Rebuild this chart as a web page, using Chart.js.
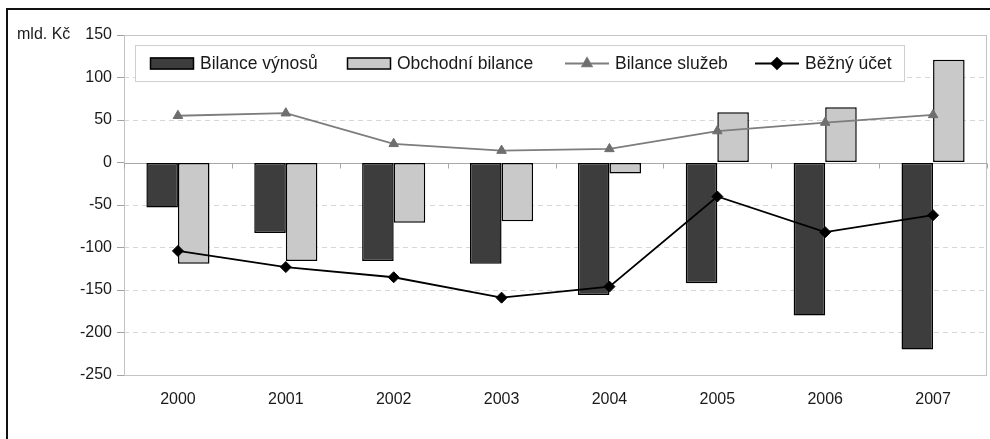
<!DOCTYPE html>
<html>
<head>
<meta charset="utf-8">
<script src="https://cdn.jsdelivr.net/npm/chart.js@4.4.1/dist/chart.umd.min.js"></script>
<style>
  html, body { margin: 0; padding: 0; background: #fff; }
  canvas { display: block; }
</style>
</head>
<body>
<canvas id="chart" width="990" height="439"></canvas>
<script>
// Platební bilance ČR, mld. Kč
const years = ['2000', '2001', '2002', '2003', '2004', '2005', '2006', '2007'];
const bilanceVynosu = [-53, -83, -116, -119, -156, -142, -180, -220];
const obchodniBilance = [-119, -116, -71, -69, -13, 59, 65, 121];
const bilanceSluzeb = [55, 58, 22, 14, 16, 37, 47, 56];
const beznyUcet = [-104, -123, -135, -159, -146, -40, -82, -62];
const yTicks = [150, 100, 50, 0, -50, -100, -150, -200, -250];
const unitLabel = 'mld. Kč';
const seriesNames = ['Bilance výnosů', 'Obchodní bilance', 'Bilance služeb', 'Běžný účet'];

const FONT = '"Liberation Sans", Arial, sans-serif';
const TEXT = '#1a1a1a';
const DARK = '#3d3d3d';
const LIGHT = '#c9c9c9';
const GREY_LINE = '#7d7d7d';

// Outer frame, plot border, zero line with category tick marks
const decor = {
  id: 'decor',
  beforeDraw(chart) {
    const ctx = chart.ctx;
    ctx.save();
    ctx.fillStyle = '#fff';
    ctx.fillRect(0, 0, chart.width, chart.height);
    ctx.strokeStyle = '#111';
    ctx.lineWidth = 2;
    ctx.beginPath();
    ctx.moveTo(7, chart.height);
    ctx.lineTo(7, 9);
    ctx.lineTo(chart.width, 9);
    ctx.stroke();
    ctx.restore();
  },
  beforeDatasetsDraw(chart) {
    const { ctx, chartArea: a, scales } = chart;
    ctx.save();
    ctx.strokeStyle = '#c4c4c4';
    ctx.lineWidth = 1;
    ctx.strokeRect(a.left + 0.5, a.top + 0.5, a.right - a.left - 1, a.bottom - a.top);
    const y0 = Math.round(scales.y.getPixelForValue(0)) + 0.5;
    ctx.strokeStyle = '#a8a8a8';
    ctx.beginPath();
    ctx.moveTo(a.left, y0);
    ctx.lineTo(a.right, y0);
    const x = scales.x;
    const step = (x.getPixelForValue(1) - x.getPixelForValue(0));
    for (let i = 0; i <= years.length; i++) {
      const px = Math.round(x.getPixelForValue(0) - step / 2 + i * step) + 0.5;
      ctx.moveTo(px, y0);
      ctx.lineTo(px, y0 + 5);
    }
    ctx.stroke();
    // unit label beside the top tick
    ctx.fillStyle = TEXT;
    ctx.font = '16px ' + FONT;
    ctx.textAlign = 'left';
    ctx.textBaseline = 'middle';
    ctx.fillText(unitLabel, 17, scales.y.getPixelForValue(yTicks[0]));
    ctx.restore();
  }
};

// Legend box drawn inside the top of the plot
const legendBox = {
  id: 'legendBox',
  afterDraw(chart) {
    const ctx = chart.ctx;
    const box = { x: 135.5, y: 45.5, w: 769, h: 36 };
    const cy = box.y + box.h / 2;
    ctx.save();
    ctx.fillStyle = '#fff';
    ctx.fillRect(box.x, box.y, box.w, box.h);
    ctx.strokeStyle = '#cfcfcf';
    ctx.lineWidth = 1;
    ctx.strokeRect(box.x, box.y, box.w, box.h);
    ctx.font = '17.5px ' + FONT;
    ctx.fillStyle = TEXT;
    ctx.textBaseline = 'middle';
    ctx.textAlign = 'left';
    const starts = [150, 347, 565, 755];
    chart.data.datasets.forEach((ds, i) => {
      const x0 = starts[i];
      if (ds.type === 'bar') {
        ctx.fillStyle = ds.backgroundColor;
        ctx.fillRect(x0, cy - 6, 44, 12);
        ctx.strokeStyle = '#000';
        ctx.lineWidth = 1.5;
        ctx.strokeRect(x0 + 0.5, cy - 5.5, 43, 11);
      } else {
        ctx.strokeStyle = ds.borderColor;
        ctx.lineWidth = ds.borderWidth;
        ctx.beginPath();
        ctx.moveTo(x0, cy);
        ctx.lineTo(x0 + 44, cy);
        ctx.stroke();
        Chart.helpers.drawPoint(ctx, {
          pointStyle: ds.pointStyle, radius: ds.pointRadius, borderWidth: 1, rotation: 0
        }, x0 + 22, cy);
        ctx.fillStyle = ds.pointBackgroundColor;
        ctx.fill();
      }
      ctx.fillStyle = TEXT;
      ctx.fillText(ds.label, x0 + 50, cy + 1);
    });
    ctx.restore();
  }
};

new Chart(document.getElementById('chart'), {
  data: {
    labels: years,
    datasets: [
      {
        type: 'bar', label: seriesNames[0], data: bilanceVynosu, order: 2,
        backgroundColor: DARK, borderColor: '#000', borderWidth: 1.5, borderSkipped: false,
        categoryPercentage: 0.585, barPercentage: 1.0
      },
      {
        type: 'bar', label: seriesNames[1], data: obchodniBilance, order: 2,
        backgroundColor: LIGHT, borderColor: '#000', borderWidth: 1.5, borderSkipped: false,
        categoryPercentage: 0.585, barPercentage: 1.0
      },
      {
        type: 'line', label: seriesNames[2], data: bilanceSluzeb, order: 1,
        borderColor: GREY_LINE, borderWidth: 1.8, tension: 0,
        pointStyle: 'triangle', pointRadius: 5.5, pointBackgroundColor: '#6e6e6e',
        pointBorderColor: '#6e6e6e', pointBorderWidth: 1
      },
      {
        type: 'line', label: seriesNames[3], data: beznyUcet, order: 0,
        borderColor: '#000', borderWidth: 1.8, tension: 0,
        pointStyle: 'rectRot', pointRadius: 5.5, pointBackgroundColor: '#000',
        pointBorderColor: '#000', pointBorderWidth: 1
      }
    ]
  },
  options: {
    responsive: false,
    animation: false,
    devicePixelRatio: 1,
    layout: { autoPadding: false, padding: { left: 0, right: 3, top: 35, bottom: 0 } },
    plugins: { legend: { display: false }, tooltip: { enabled: false } },
    scales: {
      x: {
        grid: { display: false, drawTicks: false },
        border: { display: false },
        ticks: { color: TEXT, font: { family: FONT, size: 16 }, padding: 15, maxRotation: 0 },
        afterFit(scale) {
          scale.height = 64;
          scale.paddingLeft = 0;
          scale.paddingRight = 0;
        }
      },
      y: {
        min: -250, max: 150,
        afterBuildTicks(scale) { scale.ticks = yTicks.map(v => ({ value: v })); },
        grid: {
          color: (ctx) => (ctx.tick && ctx.tick.value === 0) ? 'rgba(0,0,0,0)' : '#d6d6d6',
          lineWidth: 1,
          drawTicks: true, tickLength: 7, tickColor: '#a0a0a0', tickWidth: 1
        },
        border: { display: false, dash: [5, 4] },
        ticks: { color: TEXT, font: { family: FONT, size: 16 }, padding: 5 },
        afterFit(scale) { scale.width = 124; }
      }
    }
  },
  plugins: [decor, legendBox]
});
</script>
</body>
</html>
